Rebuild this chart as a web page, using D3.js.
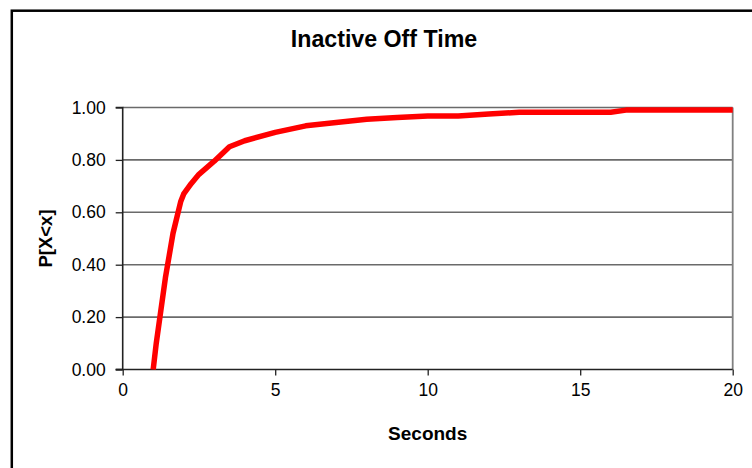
<!DOCTYPE html>
<html>
<head>
<meta charset="utf-8">
<script src="https://cdn.jsdelivr.net/npm/d3@7"></script>
<style>
  html, body { margin: 0; padding: 0; background: #fff; }
  svg { display: block; font-family: "Liberation Sans", Arial, sans-serif; }
</style>
</head>
<body>
<svg id="chart" width="752" height="468"></svg>
<script>
const title = "Inactive Off Time";
const xLabel = "Seconds";
const yLabel = "P[X<x]";
const xTicks = [0, 5, 10, 15, 20];
const yTicks = [0, 0.2, 0.4, 0.6, 0.8, 1.0];
const seconds = [1.0, 1.1, 1.4, 1.65, 1.9, 2.0, 2.25, 2.5, 3.0, 3.5, 4.0, 5.0, 6.0, 7.0, 8.0, 9.0, 10.0, 11.0, 12.0, 13.0, 14.0, 15.0, 16.0, 16.5, 17.0, 18.0, 19.0, 20.0];
const prob =    [0.0, 0.10, 0.35, 0.52, 0.64, 0.67, 0.71, 0.745, 0.795, 0.85, 0.873, 0.905, 0.93, 0.943, 0.955, 0.962, 0.968, 0.968, 0.975, 0.982, 0.982, 0.982, 0.982, 0.99, 0.99, 0.99, 0.99, 0.99];

const svg = d3.select("#chart");
const pLeft = 122.7, pRight = 732.7, pTop = 107.5, pBottom = 369.5;

const x = d3.scaleLinear().domain([0, 20]).range([pLeft, pRight]);
const y = d3.scaleLinear().domain([0, 1]).range([pBottom, pTop]);

// outer chart border
svg.append("rect")
  .attr("x", 11.8).attr("y", 10.7)
  .attr("width", 760).attr("height", 470)
  .attr("fill", "none").attr("stroke", "#000").attr("stroke-width", 2.5);

// title
svg.append("text")
  .attr("x", 384).attr("y", 46.8)
  .attr("text-anchor", "middle")
  .attr("font-weight", "bold").attr("font-size", 23.2)
  .text(title);

// gridlines
svg.append("g").selectAll("line")
  .data(yTicks.filter(d => d > 0))
  .join("line")
  .attr("x1", pLeft).attr("x2", pRight)
  .attr("y1", d => y(d)).attr("y2", d => y(d))
  .attr("stroke", "#6a6a6a").attr("stroke-width", 1.6);

// right plot border
svg.append("line")
  .attr("x1", pRight).attr("x2", pRight)
  .attr("y1", pTop).attr("y2", pBottom)
  .attr("stroke", "#808080").attr("stroke-width", 1.8);

// axes
const yAxis = d3.axisLeft(y).tickValues(yTicks).tickFormat(d3.format(".2f")).tickSize(7).tickPadding(10);
const gy = svg.append("g").attr("transform", `translate(${pLeft},0)`).call(yAxis);
const xAxis = d3.axisBottom(x).tickValues(xTicks).tickFormat(d3.format("d")).tickSize(6).tickPadding(8);
const gx = svg.append("g").attr("transform", `translate(0,${pBottom})`).call(xAxis);

[gx, gy].forEach(g => {
  g.select(".domain").attr("stroke", "#222").attr("stroke-width", 1.6);
  g.selectAll(".tick line").attr("stroke", "#222").attr("stroke-width", 1.3);
  g.selectAll(".tick text").attr("font-size", 17.5).attr("fill", "#000")
    .attr("font-family", "\"Liberation Sans\", Arial, sans-serif");
});
gy.select(".domain").attr("d", `M-7,${pTop}H0V${pBottom}H-7`);
gx.select(".domain").attr("d", `M${pLeft - 7},0H${pRight}`);

// axis titles
svg.append("text")
  .attr("x", (pLeft + pRight) / 2).attr("y", 440)
  .attr("text-anchor", "middle")
  .attr("font-weight", "bold").attr("font-size", 19)
  .text(xLabel);

svg.append("text")
  .attr("transform", `translate(52,${(pTop + pBottom) / 2}) rotate(-90)`)
  .attr("text-anchor", "middle")
  .attr("font-weight", "bold").attr("font-size", 18.5)
  .text(yLabel);

// line
const line = d3.line().x((d, i) => x(seconds[i])).y((d, i) => y(prob[i]));
svg.append("path")
  .datum(prob)
  .attr("d", line)
  .attr("fill", "none")
  .attr("stroke", "#ff0000")
  .attr("stroke-width", 5.5)
  .attr("stroke-linejoin", "round");
</script>
</body>
</html>
